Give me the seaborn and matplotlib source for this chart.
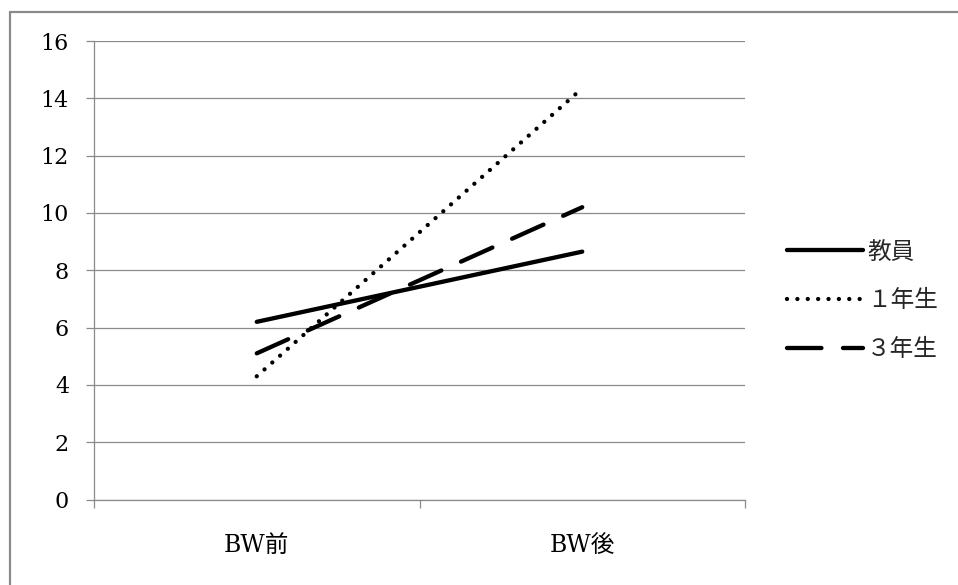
import matplotlib
matplotlib.use("Agg")
import matplotlib.pyplot as plt
from matplotlib.lines import Line2D
import pandas as pd
import seaborn as sns

# Data
periods = ["BW前", "BW後"]
groups = ["教員", "１年生", "３年生"]
staff = [6.2, 8.65]
first_year = [4.3, 14.35]
third_year = [5.1, 10.2]
y_ticks = [0, 2, 4, 6, 8, 10, 12, 14, 16]

series = {"教員": staff, "１年生": first_year, "３年生": third_year}
df = pd.DataFrame(
    [(g, p, v) for g in groups for p, v in zip(periods, series[g])],
    columns=["群", "時期", "値"],
)

sns.set_theme(style="white")
plt.rcParams["font.family"] = ["DejaVu Serif", "Noto Sans CJK JP"]

W, H = 958, 585
fig = plt.figure(figsize=(W / 100, H / 100), dpi=100)
ax = fig.add_axes([94 / W, 1 - 499.5 / H, (745 - 94) / W, (499.5 - 41) / H])

GRAY = "#8a8a8a"
LW = 3.1
styles = {
    "教員": "-",
    "１年生": (0, (0.01, 2.4)),
    "３年生": (0, (8.0, 5.0)),
}

for g in groups:
    sub = df[df["群"] == g]
    sns.lineplot(
        data=sub, x="時期", y="値", ax=ax, color="black", linewidth=LW,
        linestyle=styles[g], dash_capstyle="round", solid_capstyle="round",
        label=g, legend=False,
    )

ax.set_xlim(-0.5, 1.5)
ax.set_ylim(0, 16)
ax.set_yticks(y_ticks)
ax.set_yticklabels([str(t) for t in y_ticks])
ax.set_xticks([0, 1])
ax.set_xticklabels(periods)
ax.set_xticks([-0.5, 0.5, 1.5], minor=True)
ax.set_xlabel("")
ax.set_ylabel("")

ax.grid(axis="y", color=GRAY, linewidth=0.9)
ax.grid(axis="x", visible=False)
ax.set_axisbelow(True)
for side in ["top", "right"]:
    ax.spines[side].set_visible(False)
for side in ["left", "bottom"]:
    ax.spines[side].set_color(GRAY)
    ax.spines[side].set_linewidth(0.9)

ax.tick_params(axis="y", which="major", direction="out", length=6, width=0.9,
               color=GRAY, pad=12, labelsize=16, labelcolor="black", left=True)
ax.tick_params(axis="x", which="major", length=0, pad=25, labelsize=17,
               labelcolor="black")
ax.tick_params(axis="x", which="minor", direction="out", length=6, width=0.9,
               color=GRAY, bottom=True)

handles = [
    Line2D([], [], color="black", linewidth=LW, linestyle=styles[g],
           dash_capstyle="round", solid_capstyle="round")
    for g in groups
]
leg = ax.legend(
    handles, groups, loc="center left",
    bbox_to_anchor=(787 / W, 1 - 301 / H), bbox_transform=fig.transFigure,
    frameon=False, borderpad=0, borderaxespad=0, handlelength=3.2,
    handletextpad=0.2, labelspacing=1.1,
    prop={"family": ["Noto Sans CJK JP"], "size": 17},
)

# Chart-area outline (top and left edges)
fig.add_artist(Line2D([10 / W, 1.0], [1 - 12 / H, 1 - 12 / H],
                      transform=fig.transFigure, color=GRAY, linewidth=1.6))
fig.add_artist(Line2D([10 / W, 10 / W], [1 - 12 / H, 0.0],
                      transform=fig.transFigure, color=GRAY, linewidth=1.6))

fig.savefig("out.png", dpi=100, facecolor="white")
